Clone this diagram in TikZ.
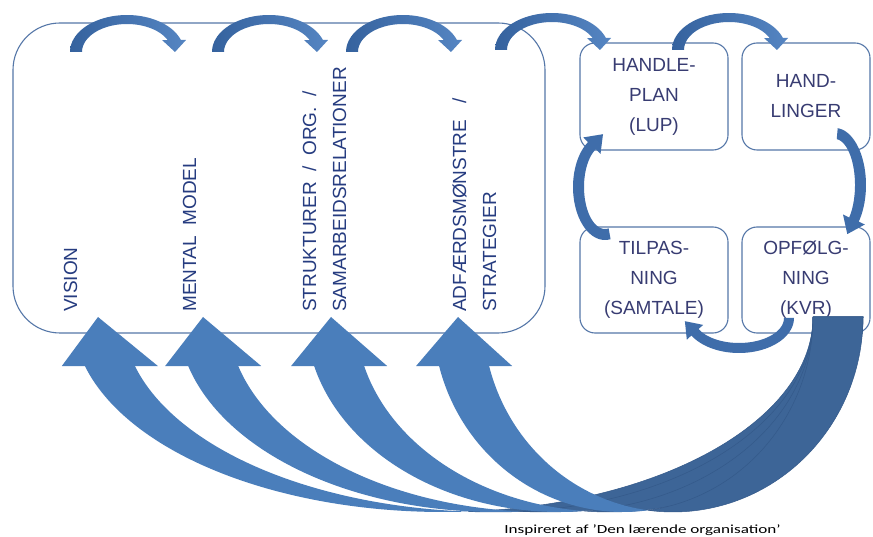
\documentclass[tikz,border=0pt]{standalone}
\usepackage{fontspec}
\setmainfont{Liberation Sans}
\newfontfamily\capfont{Carlito}
\usepackage{graphicx}
\definecolor{lightarrow}{HTML}{4A7EBB}
\definecolor{darkarrow}{HTML}{3D6597}
\definecolor{darkline}{HTML}{34598A}
\definecolor{arcblue}{HTML}{3F6DAA}
\definecolor{arcdark}{HTML}{35629E}
\definecolor{arclight}{HTML}{5585C2}
\definecolor{frameblue}{HTML}{5577A8}
\definecolor{txtblue}{HTML}{263C80}
\definecolor{boxtxt}{HTML}{383C72}
% big curved up arrow: #1 = centre x of left ellipse, #2 = x radius
\newcommand{\bigcurvedarrow}[2]{%
  \pgfmathsetmacro{\arrTc}{acos(25/#2)}%
  \pgfmathsetmacro{\arrTcb}{180-\arrTc}%
  \pgfmathsetmacro{\arrMid}{#1+25-0.968*#2}%
  \pgfmathsetmacro{\arrTip}{#1-#2+25}%
  \fill[lightarrow] plot[domain=165.446:\arrTc, samples=70] ({#1+#2*cos(\x)},{317+195*sin(\x)})
     -- plot[domain=\arrTcb:165.446, samples=70] ({#1+50+#2*cos(\x)},{317+195*sin(\x)}) -- cycle;
  \fill[lightarrow] ({\arrMid-48},366) -- (\arrTip,317) -- ({\arrMid+48},366) -- cycle;
  \filldraw[fill=darkarrow, draw=darkline, line width=0.5pt]
     plot[domain=0:\arrTcb, samples=70] ({#1+50+#2*cos(\x)},{317+195*sin(\x)})
     -- plot[domain=\arrTc:0, samples=70] ({#1+#2*cos(\x)},{317+195*sin(\x)}) -- cycle;
}
% small arched arrow on top: #1 = centre x, #2 = foot y
\newcommand{\toparc}[2]{%
  \shade[left color=arcdark, right color=arclight]
     plot[domain=-180:-19, samples=40] ({#1+57*cos(\x)},{#2+37*sin(\x)})
     -- ({#1+59},{#2-12}) -- ({#1+48},{#2}) -- ({#1+35},{#2-12})
     -- plot[domain=-25:-180, samples=40] ({#1+45*cos(\x)},{#2+28*sin(\x)}) -- cycle;
}
\begin{document}
\begin{tikzpicture}[x=1pt,y=-1pt,
  frame/.style={draw=frameblue, line width=1.1pt, rounded corners=15pt, inner sep=0pt,
    text=boxtxt, align=center, font=\fontsize{19}{30}\selectfont},
  rot/.style={rotate=90, anchor=base west, inner sep=0pt, text=txtblue,
    font=\fontsize{19}{22}\selectfont}]
\useasboundingbox (0,0) rectangle (873,537);
\fill[white] (0,0) rectangle (873,537);

% main container
\node[draw=frameblue, line width=1.1pt, rounded corners=47pt, minimum width=532pt,
      minimum height=310pt, inner sep=0pt] (main) at (279,178) {};

% rotated labels
\node[rot] (vision) at (77,312) {VISION};
\node[rot] (mental) at (196,312) {MENTAL\ \ MODEL};
\node[rot] (strukt) at (316,312) {STRUKTURER\ \ /\ \ ORG.\ \ /};
\node[rot] (samarb) at (346,312) {SAMARBEIDSRELATIONER};
\node[rot] (adfaerd) at (466,312) {ADFÆRDSMØNSTRE\ \ \ /};
\node[rot] (strat) at (496,312) {STRATEGIER};

% four boxes
\node[frame, minimum width=148pt, minimum height=107pt] (hp) at (654,96.5) {HANDLE-\\PLAN\\(LUP)};
\node[frame, minimum width=128pt, minimum height=107pt] (hl) at (806,96.5) {HAND-\\LINGER};
\node[frame, minimum width=148pt, minimum height=106pt] (tp) at (654,280) {TILPAS-\\NING\\(SAMTALE)};
\node[frame, minimum width=128pt, minimum height=106pt] (op) at (806,280) {OPFØLG-\\NING\\(KVR)};

% caption
\node[anchor=base, inner sep=0pt, text=black] (cap) at (642.5,533)
  {\capfont\fontsize{12.4}{14}\selectfont\scalebox{1.38}[1]{Inspireret af ’Den lærende organisation’}};

% top arched arrows
\toparc{127}{52}
\toparc{269}{52}
\toparc{403}{52}
\toparc{552}{50}
\toparc{729}{50}

% HANDLINGER -> OPFOLGNING
\fill[arcblue] plot[domain=-85:40, samples=40] ({835+31*cos(\x)},{185+57*sin(\x)})
  -- (864.8,224.5) -- (847.3,234.1) -- (843.0,214.5)
  -- plot[domain=45:-85, samples=40] ({835+20*cos(\x)},{185+46*sin(\x)}) -- cycle;
% OPFOLGNING -> TILPASNING
\fill[arcblue] plot[domain=0:150, samples=40] ({739+55*cos(\x)},{318+35*sin(\x)})
  -- (686.8,339.7) -- (684.9,321.2) -- (703.2,324.9)
  -- plot[domain=154:0, samples=40] ({739+45*cos(\x)},{318+25*sin(\x)}) -- cycle;
% TILPASNING -> HANDLEPLAN
\fill[arcblue] plot[domain=80:238, samples=40] ({605+32*cos(\x)},{187+53*sin(\x)})
  -- (583.3,137.4) -- (603.0,134.2) -- (600.5,154.0)
  -- plot[domain=244:80, samples=40] ({605+21*cos(\x)},{187+42*sin(\x)}) -- cycle;

% big curved arrows back to the left column
\bigcurvedarrow{443}{370}
\bigcurvedarrow{495.5}{317.5}
\bigcurvedarrow{559.5}{253.5}
\bigcurvedarrow{623}{190}
\end{tikzpicture}
\end{document}
